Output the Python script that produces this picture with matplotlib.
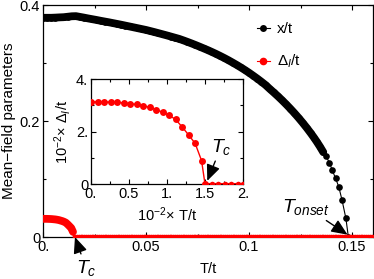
import numpy as np
import matplotlib
matplotlib.use("Agg")
import matplotlib.pyplot as plt
from matplotlib.ticker import MultipleLocator, FixedLocator, FixedFormatter

plt.rcParams['font.family'] = ['Liberation Sans', 'DejaVu Sans']
plt.rcParams['mathtext.fontset'] = 'custom'
plt.rcParams['mathtext.rm'] = 'Liberation Sans'
plt.rcParams['mathtext.it'] = 'Liberation Sans:italic'
plt.rcParams['mathtext.bf'] = 'Liberation Sans:bold'

# x/t : dense part on a 0.002 grid, then the sparse tail
x_T_dense = np.round(np.arange(0, 0.1301, 0.002), 4)
x_dense = [0.378, 0.378, 0.378, 0.3783, 0.3787, 0.379, 0.3798, 0.3806, 0.3808, 0.3795,
           0.3782, 0.3768, 0.3755, 0.3742, 0.3728, 0.3715, 0.3702, 0.3688, 0.3674, 0.366,
           0.3645, 0.363, 0.3615, 0.36, 0.3585, 0.357, 0.3552, 0.3534, 0.3515, 0.3496,
           0.3477, 0.3457, 0.3437, 0.3417, 0.3392, 0.3366, 0.3339, 0.3311, 0.3282, 0.3252,
           0.3222, 0.319, 0.3157, 0.3122, 0.3086, 0.3048, 0.3008, 0.2967, 0.2924, 0.2879,
           0.2832, 0.2782, 0.2731, 0.2677, 0.2621, 0.2555, 0.2492, 0.2427, 0.2359, 0.2288,
           0.2214, 0.2137, 0.2056, 0.1971, 0.1882, 0.1788]
x_T_tail = [0.1315, 0.133, 0.1345, 0.136, 0.1374, 0.139, 0.1403, 0.142, 0.1435, 0.1451, 0.147, 0.1482]
x_tail = [0.1714, 0.1636, 0.1553, 0.1464, 0.139, 0.128, 0.116, 0.101, 0.087, 0.064, 0.032, 0.0]

# Delta_I/t in units of 1e-2 (inset), zero above Tc
d_T = [0.0, 0.086, 0.171, 0.257, 0.342, 0.428, 0.514, 0.599, 0.685, 0.771,
       0.856, 0.942, 1.027, 1.113, 1.198, 1.284, 1.370, 1.455, 1.5]
d_val = [3.13, 3.13, 3.13, 3.12, 3.11, 3.09, 3.06, 3.03, 2.98, 2.92,
         2.83, 2.74, 2.62, 2.46, 2.18, 1.87, 1.55, 0.89, 0.0]
d_T_zero = [1.59, 1.67, 1.76, 1.84, 1.93, 2.0]

main_zero_T = np.round(np.arange(0.0155, 0.1605, 0.0009), 5)

fig = plt.figure(figsize=(3.74, 2.79), dpi=100)
ax = fig.add_axes([0.115, 0.1505, 0.8815, 0.8315])

xT = np.concatenate([x_T_dense, x_T_tail])
xv = np.concatenate([x_dense, x_tail])
# dense region of x/t: overlapping dots form a thick band
n_band = len(x_T_dense) + 4
ax.plot(xT[:n_band], xv[:n_band], '-', color='k', lw=5.6, solid_capstyle='round', zorder=3)
ax.plot(xT, xv, '-', color='k', lw=0.8, marker='o', ms=4.8, mec='none', zorder=3)

dT_main = np.array(d_T) / 100
dv_main = np.array(d_val) / 100
ax.plot(dT_main[:-1], dv_main[:-1], '-', color='red', lw=5.6, solid_capstyle='round', zorder=4)
ax.plot(dT_main, dv_main, '-', color='red', lw=1.5, zorder=4)
ax.plot(main_zero_T, np.zeros(len(main_zero_T)), '-', color='red', lw=1.2, marker='o', ms=4.0,
        mec='none', zorder=4)

# legend handles
ax.plot([], [], '-', color='k', lw=0.8, marker='o', ms=5.0, mec='none', label='x/t')
ax.plot([], [], '-', color='red', lw=0.8, marker='o', ms=5.5, mec='none', label=r'$\Delta_I$/t')

ax.set_xlim(0, 0.16)
ax.set_ylim(0, 0.4)
ax.xaxis.set_major_locator(FixedLocator([0, 0.05, 0.1, 0.15]))
ax.xaxis.set_major_formatter(FixedFormatter(['0.', '0.05', '0.1', '0.15']))
ax.xaxis.set_minor_locator(MultipleLocator(0.025))
ax.yaxis.set_major_locator(FixedLocator([0, 0.2, 0.4]))
ax.yaxis.set_major_formatter(FixedFormatter(['0', '0.2', '0.4']))
ax.yaxis.set_minor_locator(MultipleLocator(0.1))
ax.tick_params(which='both', direction='in', top=True, right=True, labelsize=10.5, width=0.8)
ax.tick_params(which='major', length=3.5, pad=2)
ax.tick_params(which='minor', length=2.5)
for s in ax.spines.values():
    s.set_linewidth(0.9)
ax.set_xlabel('T/t', fontsize=10.5, labelpad=6)
ax.set_ylabel('Mean\u2212field parameters', fontsize=11, labelpad=3)

leg = ax.legend(loc='upper right', bbox_to_anchor=(0.825, 0.985), frameon=False, fontsize=11,
                handlelength=0.8, handletextpad=0.5, labelspacing=1.1)

arrow_kw = dict(arrowstyle='-|>,head_length=0.7,head_width=0.3', color='k', lw=1.0,
                shrinkA=1, shrinkB=0)
ax.annotate(r'$T_c$', xy=(0.0155, 0.0), xycoords='data', xytext=(86, 11),
            textcoords='figure pixels', ha='center', va='center', fontsize=14,
            arrowprops=arrow_kw, annotation_clip=False)
ax.annotate(r'$T_{onset}$', xy=(0.1478, 0.004), xycoords='data', xytext=(306, 72),
            textcoords='figure pixels', ha='center', va='center', fontsize=14,
            arrowprops=arrow_kw)

# inset
axi = fig.add_axes([0.2433, 0.3405, 0.4064, 0.3763])
axi.plot(d_T, d_val, '-', color='red', lw=1.0, marker='o', ms=5.0, mec='none', zorder=3)
axi.plot([1.5] + d_T_zero, np.zeros(len(d_T_zero) + 1), '-', color='red', lw=1.5, marker='o',
         ms=4.0, mec='none', zorder=3)
axi.set_xlim(0, 2)
axi.set_ylim(0, 4)
axi.xaxis.set_major_locator(FixedLocator([0, 0.5, 1, 1.5, 2]))
axi.xaxis.set_major_formatter(FixedFormatter(['0.', '0.5', '1.', '1.5', '2.']))
axi.xaxis.set_minor_locator(MultipleLocator(0.25))
axi.yaxis.set_major_locator(FixedLocator([0, 2, 4]))
axi.yaxis.set_major_formatter(FixedFormatter(['0', '2.', '4.']))
axi.yaxis.set_minor_locator(MultipleLocator(1))
axi.tick_params(which='both', direction='in', top=True, right=True, labelsize=10.5, width=0.8)
axi.tick_params(which='major', length=3.5, pad=2)
axi.tick_params(which='minor', length=2.5)
for s in axi.spines.values():
    s.set_linewidth(0.9)
axi.set_xlabel('10$^{-2}$\u00d7 T/t', fontsize=10.5, labelpad=3)
axi.set_ylabel('10$^{-2}$\u00d7 $\\Delta_I$/t', fontsize=10.5, labelpad=2)
axi.annotate(r'$T_c$', xy=(1.53, 0.12), xycoords='data', xytext=(221, 132),
             textcoords='figure pixels', ha='center', va='center', fontsize=14,
             arrowprops=arrow_kw)

fig.savefig('out.png', dpi=100)
